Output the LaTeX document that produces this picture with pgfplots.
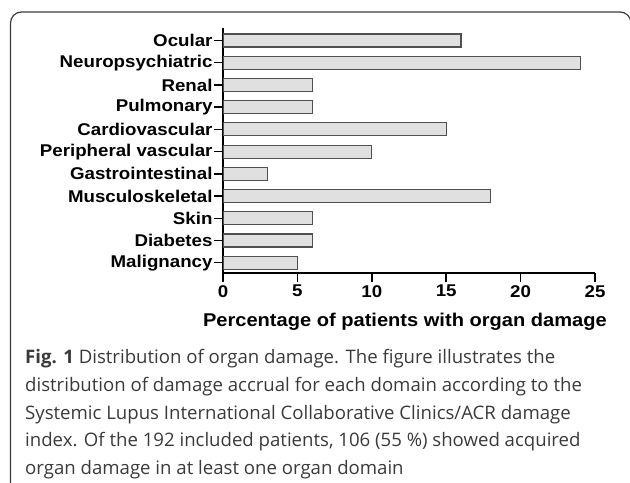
\documentclass[border=0pt]{standalone}
\usepackage{pgfplots}
\pgfplotsset{compat=1.18}
\usepackage{fontspec}
\setmainfont{Liberation Sans}
\newfontfamily\chartfont[FakeStretch=1.1]{Liberation Sans}
\newfontfamily\labelfont[FakeStretch=1.085]{Liberation Sans}
\newfontfamily\capfont{Open Sans}
\definecolor{barfill}{HTML}{E0E0E0}
\definecolor{barline}{HTML}{505050}
\definecolor{captext}{HTML}{3A3A3A}
\definecolor{framec}{HTML}{3C3C3C}
\begin{document}
\begin{tikzpicture}[x=1bp,y=1bp]
\path[use as bounding box] (0,0) rectangle (630,-483);
\begin{scope}
\clip (0,0) rectangle (630,-483);
\draw[framec, line width=1.2bp, rounded corners=11bp] (10.5,-495) -- (10.5,-12) -- (631,-12) -- (631,-495);
\end{scope}
\begin{axis}[
  at={(223bp,-272.7bp)}, anchor=south west,
  width=372bp, height=244.4bp, scale only axis,
  xbar, bar width=13bp,
  xmin=0, xmax=25, ymin=-0.45, ymax=10.55,
  axis lines=left, axis line style={-, line width=2bp, black},
  xtick={0,5,...,25}, ytick={0,...,10},
  yticklabels={Malignancy,Diabetes,Skin,Musculoskeletal,Gastrointestinal,Peripheral vascular,Cardiovascular,Pulmonary,Renal,Neuropsychiatric,Ocular},
  tick align=outside, major tick length=9bp,
  tick style={black, line width=1.5bp},
  /pgf/number format/assume math mode=true,
  ticklabel style={font=\chartfont\bfseries\fontsize{17bp}{20bp}\selectfont},
  yticklabel style={xshift=2bp},
  xlabel={Percentage of patients with organ damage},
  xlabel style={font=\labelfont\bfseries\fontsize{18.5bp}{22bp}\selectfont, at={(axis description cs:0.489,0)}, anchor=base, yshift=-53.5bp},
]
\addplot[fill=barfill, draw=barline, line width=1.2bp] coordinates {(5,0) (6,1) (6,2) (18,3) (3,4) (10,5) (15,6) (6,7) (6,8) (24,9) (16,10)};
\end{axis}
\begin{scope}[every node/.style={anchor=base west, inner sep=0, text=captext, font=\capfont\fontsize{18.6bp}{23bp}\selectfont}]
\node at (25,-363.8) {\textbf{Fig. 1} Distribution of organ damage. The figure illustrates the};
\node at (25,-391.5) {distribution of damage accrual for each domain according to the};
\node at (25,-419) {Systemic Lupus International Collaborative Clinics/ACR damage};
\node at (25,-446.5) {index. Of the 192 included patients, 106 (55 \%) showed acquired};
\node at (25,-474) {organ damage in at least one organ domain};
\end{scope}
\end{tikzpicture}
\end{document}
